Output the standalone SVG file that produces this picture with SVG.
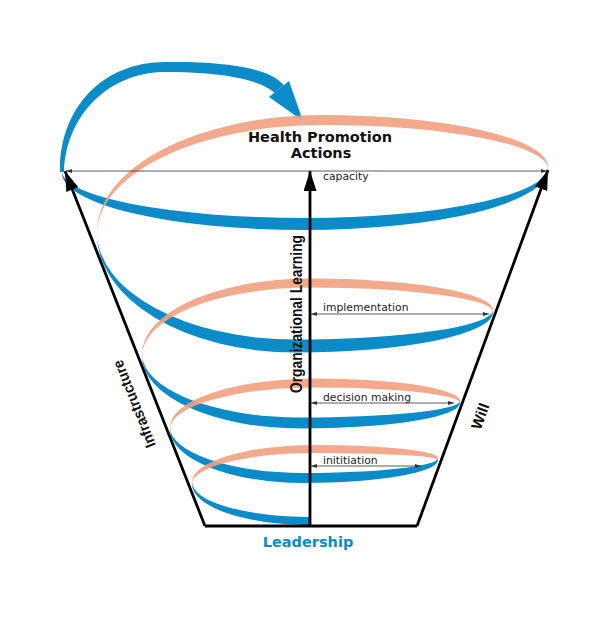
<svg xmlns="http://www.w3.org/2000/svg" width="600" height="635" viewBox="0 0 600 635">
<style>
.blue{fill:#0b8bc8}
.salmon{fill:#f2a080;fill-opacity:0.9}
.axis{stroke:#000;stroke-width:2.8;fill:none}
.dim{stroke:#333;stroke-width:0.8;fill:none}
.title{font-family:"DejaVu Sans",sans-serif;font-weight:bold;font-size:14.5px;fill:#111}
.small{font-family:"DejaVu Sans",sans-serif;font-size:10.8px;fill:#222}
.side{font-family:"Liberation Sans",Arial,sans-serif;font-weight:bold;fill:#111}
</style>
<defs>
<marker id="big" markerUnits="userSpaceOnUse" markerWidth="20" markerHeight="13" refX="20" refY="6.5" orient="auto">
<path d="M0,0 L20,6.5 L0,13 Z" fill="#000"/>
</marker>
<marker id="tiny" markerUnits="userSpaceOnUse" markerWidth="6" markerHeight="4" refX="6" refY="2" orient="auto-start-reverse">
<path d="M0,0 L6,2 L0,4 Z" fill="#333"/>
</marker>
</defs>
<rect width="600" height="635" fill="#fff"/>

<g id="spiral">
<g id="front-bands">
<path class="blue" d="M310,525 A118,41 0 0 1 192,484 L192,482 A118,35 0 0 0 310,517 Z"/>
<path class="blue" d="M438,460 A134,23 0 0 1 304,483 A134,54 0 0 1 170,429 L170,427 A134,46 0 0 0 304,473 A134,15 0 0 0 438,458 Z"/>
<path class="blue" d="M460,403 A159,25.5 0 0 1 301,428.5 A159,72.5 0 0 1 142,356 L142,354 A159,63.5 0 0 0 301,417.5 A159,16.5 0 0 0 460,401 Z"/>
<path class="blue" d="M493,312 A198,40.5 0 0 1 295,352.5 A198,118.5 0 0 1 97,234 L97,232 A198,107.5 0 0 0 295,339.5 A198,29.5 0 0 0 493,310 Z"/>
<path class="blue" d="M548,169 A243,61 0 0 1 305,230 A243,57 0 0 1 62,173 L62,171 A243,47 0 0 0 305,218 A243,51 0 0 0 548,167 Z"/>
<path class="blue" d="M60,172 C59,108 103,62 165,62 C220,61 270,67 283.7,85.3 L274.3,92.7 C256,77 212,72 165,72 C110,72 66,114 64,172 Z"/>
<path class="blue" d="M289,81 L269,97 L303,121 Z"/>
</g>
<g id="back-bands">
<path class="salmon" d="M192,482 A123,37 0 0 1 315,445 A123,13 0 0 1 438,458 L438,460 A123,7 0 0 0 315,453 A123,31 0 0 0 192,484 Z"/>
<path class="salmon" d="M170,427 A145,48.5 0 0 1 315,378.5 A145,22.5 0 0 1 460,401 L460,403 A145,15.5 0 0 0 315,387.5 A145,41.5 0 0 0 170,429 Z"/>
<path class="salmon" d="M142,354 A168,75.5 0 0 1 310,278.5 A183,31.5 0 0 1 493,310 L493,312 A183,24.5 0 0 0 310,287.5 A168,68.5 0 0 0 142,356 Z"/>
<path class="salmon" d="M97,232 A225,117 0 0 1 322,115 A226,52 0 0 1 548,167 L548,169 A226,44 0 0 0 322,125 A225,109 0 0 0 97,234 Z"/>
</g>
</g>

<g id="connectors">
<line class="axis" x1="205" y1="526" x2="417" y2="526"/>
<line class="axis" x1="205" y1="526" x2="65" y2="171" marker-end="url(#big)"/>
<line class="axis" x1="417" y1="526" x2="548" y2="170" marker-end="url(#big)"/>
<line class="axis" x1="310" y1="526" x2="310" y2="171" marker-end="url(#big)"/>
<line class="dim" x1="66" y1="171" x2="547" y2="171" marker-start="url(#tiny)" marker-end="url(#tiny)"/>
<line class="dim" x1="311" y1="314" x2="489" y2="314" marker-start="url(#tiny)" marker-end="url(#tiny)"/>
<line class="dim" x1="311" y1="403" x2="454" y2="403" marker-start="url(#tiny)" marker-end="url(#tiny)"/>
<line class="dim" x1="311" y1="466" x2="421" y2="466" marker-start="url(#tiny)" marker-end="url(#tiny)"/>
</g>

<g id="node-health-promotion">
<text class="title" x="320" y="142" text-anchor="middle">Health Promotion</text>
<text class="title" x="321" y="158" text-anchor="middle">Actions</text>
</g>
<g id="node-capacity"><text class="small" x="323" y="180">capacity</text></g>
<g id="node-implementation"><text class="small" x="323" y="311">implementation</text></g>
<g id="node-decision-making"><text class="small" x="323" y="400.5">decision making</text></g>
<g id="node-initiation"><text class="small" x="323" y="463.5">inititiation</text></g>
<g id="node-organizational-learning">
<text class="side" font-size="16" text-anchor="middle" textLength="158" lengthAdjust="spacingAndGlyphs" transform="translate(302,314) rotate(-90)">Organizational Learning</text>
</g>
<g id="node-infrastructure">
<text class="side" font-size="15" text-anchor="middle" textLength="93" lengthAdjust="spacingAndGlyphs" transform="translate(139,402) rotate(-111.6)">Infrastructure</text>
</g>
<g id="node-will">
<text class="side" font-size="15" text-anchor="middle" transform="translate(485,418) rotate(-69.6)">Will</text>
</g>
<g id="node-leadership">
<text class="title" x="308" y="547" text-anchor="middle" style="fill:#0b8bc8">Leadership</text>
</g>
</svg>
